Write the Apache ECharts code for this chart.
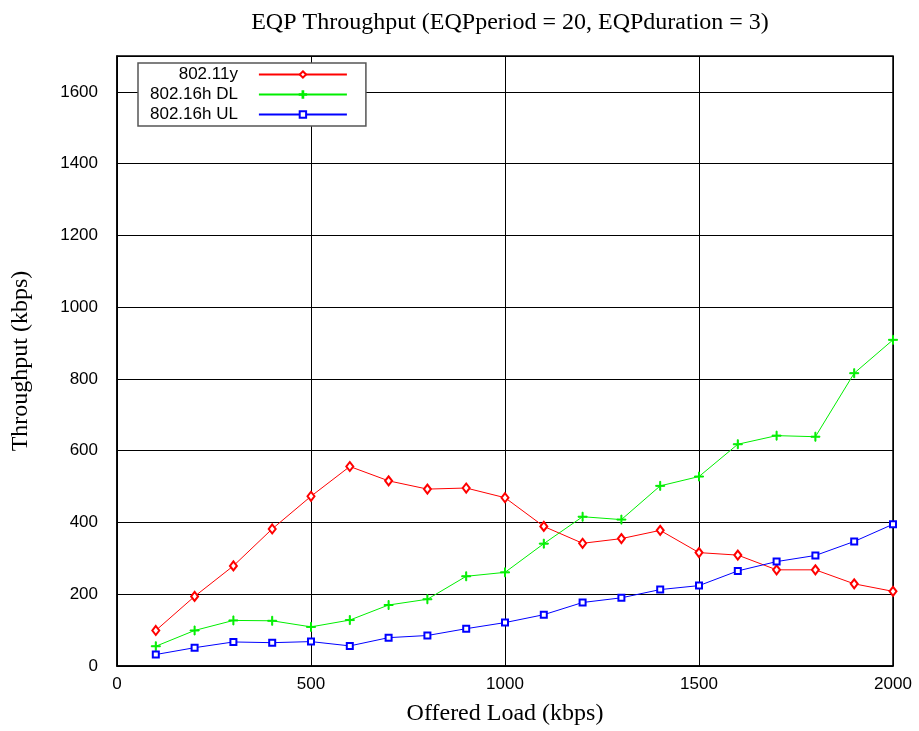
<!DOCTYPE html>
<html>
<head>
<meta charset="utf-8">
<title>EQP Throughput</title>
<script src="https://cdn.jsdelivr.net/npm/echarts@6/dist/echarts.min.js"></script>
<style>
  html, body { margin: 0; padding: 0; background: #fff; }
  #chart { width: 919px; height: 731px; }
</style>
</head>
<body>
<div id="chart"></div>
<script>
// offered load (kbps)
const loads = [100, 200, 300, 400, 500, 600, 700, 800, 900, 1000,
  1100, 1200, 1300, 1400, 1500, 1600, 1700, 1800, 1900, 2000]

// throughput (kbps)
const wifi = [99, 194, 279, 382, 473, 556, 516, 493, 496, 469,
  389, 342, 355, 378, 316, 309, 268, 268, 229, 208]
const wimaxDL = [55, 99, 127, 126, 109, 128, 170, 186, 250, 261,
  341, 416, 408, 502, 528, 618, 642, 639, 816, 909]
const wimaxUL = [32, 51, 67, 65, 68, 56, 79, 85, 104, 121,
  143, 177, 190, 213, 224, 265, 291, 308, 347, 395]

const names = ['802.11y', '802.16h DL', '802.16h UL']

const pair = (ys) => loads.map((x, i) => [x, ys[i]])

const plus = 'path://M4,0h1v4h4v1h-4v4h-1v-4h-4v-1h4z'

const mkSeries = (name, ys, color, symbol, size) => ({
  name,
  type: 'line',
  data: pair(ys),
  symbol,
  symbolSize: size,
  showAllSymbol: true,
  lineStyle: { color, width: 1 },
  itemStyle: { color, borderColor: color, borderWidth: 1 },
  emphasis: { disabled: true }
})

const plain = (v) => String(v)

const chart = echarts.init(document.getElementById('chart'))

chart.setOption({
  animation: false,
  title: {
    text: 'EQP Throughput (EQPperiod = 20, EQPduration = 3)',
    left: 505,
    textAlign: 'center',
    top: 6,
    textStyle: { fontFamily: 'Liberation Serif', fontSize: 24, fontWeight: 'normal', color: '#000' }
  },
  legend: {
    orient: 'vertical',
    left: 138,
    top: 63,
    align: 'right',
    data: names,
    itemWidth: 88,
    itemHeight: 8,
    itemGap: 3,
    padding: [3, 18, 3, 12],
    backgroundColor: '#fff',
    borderColor: '#555',
    borderWidth: 1.5,
    borderRadius: 0,
    formatter: (n) => '{a|' + n + '}',
    textStyle: {
      color: '#000',
      fontFamily: 'Liberation Sans',
      fontSize: 17,
      rich: { a: { width: 106, align: 'right', padding: [0, 16, 0, 0], fontSize: 17, fontFamily: 'Liberation Sans' } }
    }
  },
  grid: {
    left: 117, right: 26, top: 56, bottom: 63,
    show: true, borderColor: '#000', borderWidth: 1.5, backgroundColor: 'transparent'
  },
  xAxis: {
    type: 'value',
    min: 0,
    max: 2000,
    interval: 500,
    name: 'Offered Load (kbps)',
    nameLocation: 'middle',
    nameGap: 36,
    nameTextStyle: { fontFamily: 'Liberation Serif', fontSize: 24, color: '#000' },
    axisLine: { show: true, lineStyle: { color: '#000', width: 1.5 } },
    axisTick: { show: false },
    axisLabel: { color: '#000', fontFamily: 'Liberation Sans', fontSize: 17, margin: 10, formatter: plain },
    splitLine: { show: true, lineStyle: { color: '#000', width: 1 } }
  },
  yAxis: {
    type: 'value',
    min: 0,
    max: 1700,
    interval: 200,
    name: 'Throughput (kbps)',
    nameLocation: 'middle',
    nameGap: 84,
    nameTextStyle: { fontFamily: 'Liberation Serif', fontSize: 24, color: '#000' },
    axisLine: { show: true, lineStyle: { color: '#000', width: 1.5 } },
    axisTick: { show: false },
    axisLabel: { color: '#000', fontFamily: 'Liberation Sans', fontSize: 17, margin: 19, showMaxLabel: false, formatter: plain },
    splitLine: { show: true, lineStyle: { color: '#000', width: 1 } }
  },
  series: [
    mkSeries(names[0], wifi, '#ff0000', 'emptyDiamond', [7, 9]),
    mkSeries(names[1], wimaxDL, '#00ee00', plus, 9),
    mkSeries(names[2], wimaxUL, '#0000ff', 'emptyRect', 6)
  ]
})
</script>
</body>
</html>
